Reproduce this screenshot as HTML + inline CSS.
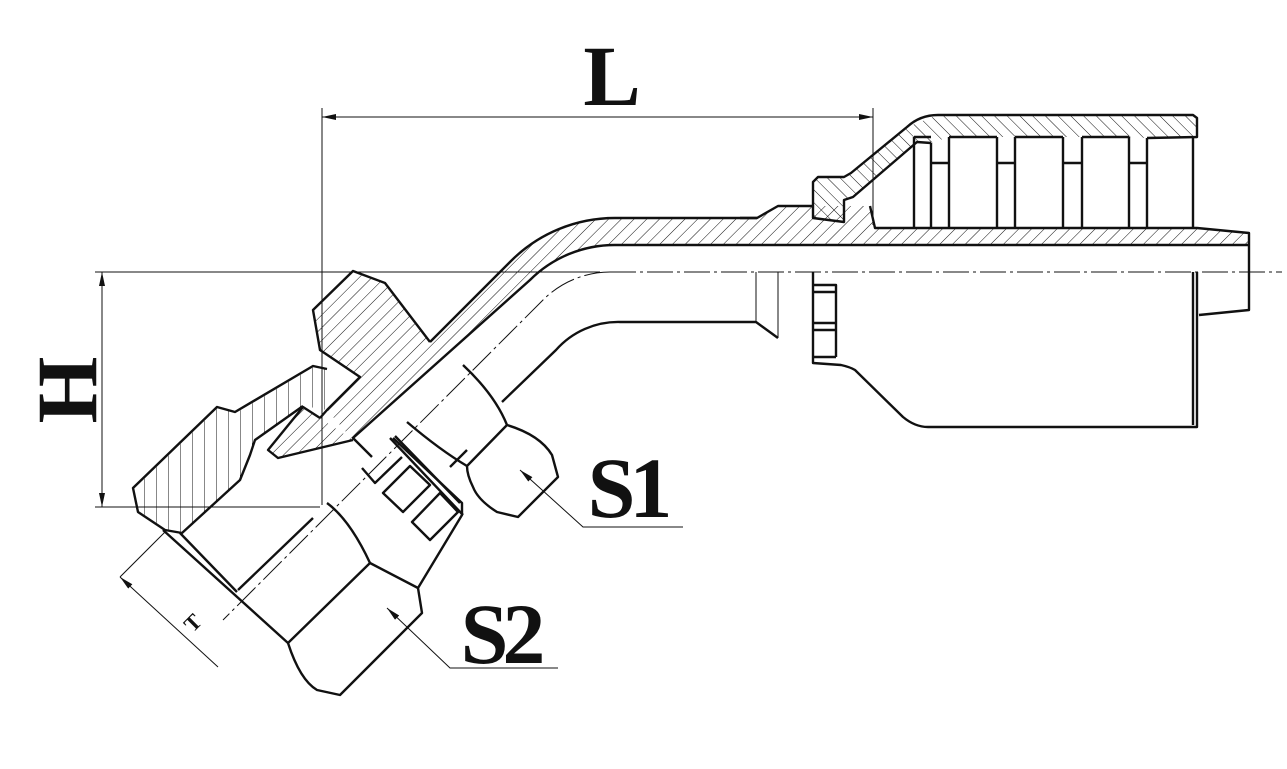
<!DOCTYPE html>
<html><head><meta charset="utf-8"><style>
html,body{margin:0;padding:0;background:#fff;}
svg{display:block;}
text{font-family:"Liberation Serif",serif;font-weight:bold;fill:#111;}
</style></head><body>
<svg width="1287" height="769" viewBox="0 0 1287 769" xmlns="http://www.w3.org/2000/svg">
<defs>
<pattern id="hb" width="9" height="9" patternUnits="userSpaceOnUse" patternTransform="rotate(45)"><line x1="0" y1="0" x2="0" y2="9" stroke="#111" stroke-width="1"/></pattern>
<pattern id="hf" width="9" height="9" patternUnits="userSpaceOnUse" patternTransform="rotate(-45)"><line x1="0" y1="0" x2="0" y2="9" stroke="#111" stroke-width="1"/></pattern>
<pattern id="hv" width="12" height="12" patternUnits="userSpaceOnUse"><line x1="0" y1="0" x2="0" y2="12" stroke="#111" stroke-width="1"/></pattern>
<marker id="ar" markerWidth="14" markerHeight="6" refX="14" refY="3" orient="auto-start-reverse" markerUnits="userSpaceOnUse"><path d="M0,0 L14,3 L0,6 z" fill="#111"/></marker>
</defs>

<g stroke="#111" stroke-width="1" fill="none">
<line x1="322" y1="108" x2="322" y2="505"/>
<line x1="873" y1="108" x2="873" y2="225"/>
<line x1="322" y1="117" x2="873" y2="117" marker-start="url(#ar)" marker-end="url(#ar)"/>
<line x1="95" y1="272" x2="600" y2="272"/>
<line x1="95" y1="507" x2="320" y2="507"/>
<line x1="102" y1="272" x2="102" y2="507" marker-start="url(#ar)" marker-end="url(#ar)"/>
<line x1="610" y1="272" x2="1282" y2="272" stroke-dasharray="26,4,3,4"/>
<path d="M610,272 A95,95 0 0 0 543,300 L223,620" stroke-dasharray="26,4,3,4"/>
<line x1="120" y1="577" x2="218" y2="667" marker-start="url(#ar)"/>
<line x1="120" y1="577" x2="165" y2="532"/>
<polyline points="520,470 583,527 683,527" marker-start="url(#ar)"/>
<polyline points="387,608 450,668 558,668" marker-start="url(#ar)"/>
</g>

<g stroke="none">
<path d="M1249,233 L1197,228 L875,228 L870,206 L813,206 L778,206 L757,218 L615,218 A147,147 0 0 0 511,261 L430,342 L385,283 L353,271 L313,310 L320,350 L360,377 L327,410 L353,440 L530,280 A120,120 0 0 1 615,245 L1249,245 Z" fill="url(#hb)"/>
<path d="M938,115 L1193,115 L1197,118 L1197,137 L1147,138 L1129,137 L1082,137 L1063,137 L1015,137 L997,137 L949,137 L931,143 L917,142 L853,197 L844,200 L844,222 L813,218 L813,180 L818,177 L844,177 L851,173 L907,127 Z" fill="url(#hf)"/>
<path d="M138,512 L133,488 L217,407 L235,412 L313,366 L327,369 L327,410 L303,406 L255,440 L250,455 L240,480 L182,533 L165,530 Z" fill="url(#hv)"/>
<path d="M268,450 L303,407 L320,418 L353,440 L278,458 Z" fill="url(#hb)"/>
</g>

<g stroke="#111" stroke-width="2.4" fill="none" stroke-linejoin="round">
<path d="M740,218 L757,218 L778,206 L813,206"/>
<path d="M870,206 L875,228 L1197,228 L1249,233 L1249,310 L1199,315"/>
<path d="M757,218 L615,218 A147,147 0 0 0 511,261 L430,342"/>
<path d="M1249,245 L615,245 A120,120 0 0 0 530,280 L353,438 L372,457"/>
<path d="M778,338 L756,322 L620,322 A83,83 0 0 0 556,350 L502,402"/>
<path d="M430,342 L385,283 L353,271 L313,310 L320,350 L360,377 L327,410 L320,418"/>
<path d="M353,440 L278,458 L268,450 L303,407 L320,418"/>
<path d="M327,369 L313,366 L235,412 L217,407 L133,488 L138,512 L165,530 L182,533 L240,480 L250,455 L255,440 L303,406"/>
<!-- S2 hex -->
<path d="M163,530 L288,643 Q300,680 317,690 L340,695 L422,613 L418,588 L462,515 L462,503 L393,438"/>
<path d="M180,533 L237,592"/>
<path d="M313,518 L238,590"/>
<path d="M288,643 L370,563 L418,588"/>
<path d="M327,503 Q350,520 370,563"/>
<path d="M390,438 L463,515"/>
<path d="M395,436 L460,503"/>
<!-- flats -->
<path d="M362,468 L375,483 L402,457"/>
<path d="M383,493 L403,512 L430,485 L410,466 Z"/>
<path d="M412,522 L430,540 L458,512 L440,493 Z"/>
<path d="M450,467 L467,450"/>
<!-- S1 hex -->
<path d="M463,365 Q495,395 507,425 Q540,435 552,455 L558,477 L518,517 L497,512 Q478,500 473,487 Q467,475 467,466 L507,425"/>
<path d="M407,422 Q440,450 467,466"/>
</g>
<g stroke="#111" stroke-width="2.4" fill="none" stroke-linejoin="round">
<path d="M938,115 L1193,115 L1197,118 L1197,137 L1147,138"/>
<path d="M938,115 Q920,115 907,127 L851,173 L844,177 L818,177 L813,182 L813,218 L844,222 L844,200 L853,197 L917,142 L931,143"/>
<path d="M914,137 L914,228 M931,143 L931,228 M949,137 L949,228 M997,137 L997,228 M1015,137 L1015,228 M1063,137 L1063,228 M1082,137 L1082,228 M1129,137 L1129,228 M1147,138 L1147,228 M1193,137 L1193,228"/>
<path d="M914,137 L931,137 M949,137 L997,137 M1015,137 L1063,137 M1082,137 L1129,137"/>
<path d="M931,163 L949,163 M997,163 L1015,163 M1063,163 L1082,163 M1129,163 L1147,163"/>
<path d="M813,272 L813,363 L841,365 Q850,367 855,370 L903,417 Q915,427 928,427 L1197,427 L1197,272"/>
<path d="M1193,272 L1193,425"/>
<path d="M813,285 L836,285 L836,357 M813,292 L836,292 M813,323 L836,323 M813,330 L836,330 M813,357 L836,357"/>
</g>
<g stroke="#111" stroke-width="1" fill="none">
<path d="M756,272 L756,322 M778,272 L778,338"/>
</g>

<text x="612" y="105" font-size="86" text-anchor="middle">L</text>
<text x="627" y="517" font-size="86" text-anchor="middle" letter-spacing="-6">S1</text>
<text x="500" y="663" font-size="86" text-anchor="middle" letter-spacing="-6">S2</text>
<text transform="translate(96,390) rotate(-90)" font-size="86" text-anchor="middle">H</text>
<text transform="translate(198,628) rotate(-45)" font-size="22" text-anchor="middle" font-weight="normal">T</text>
</svg>
</body></html>
